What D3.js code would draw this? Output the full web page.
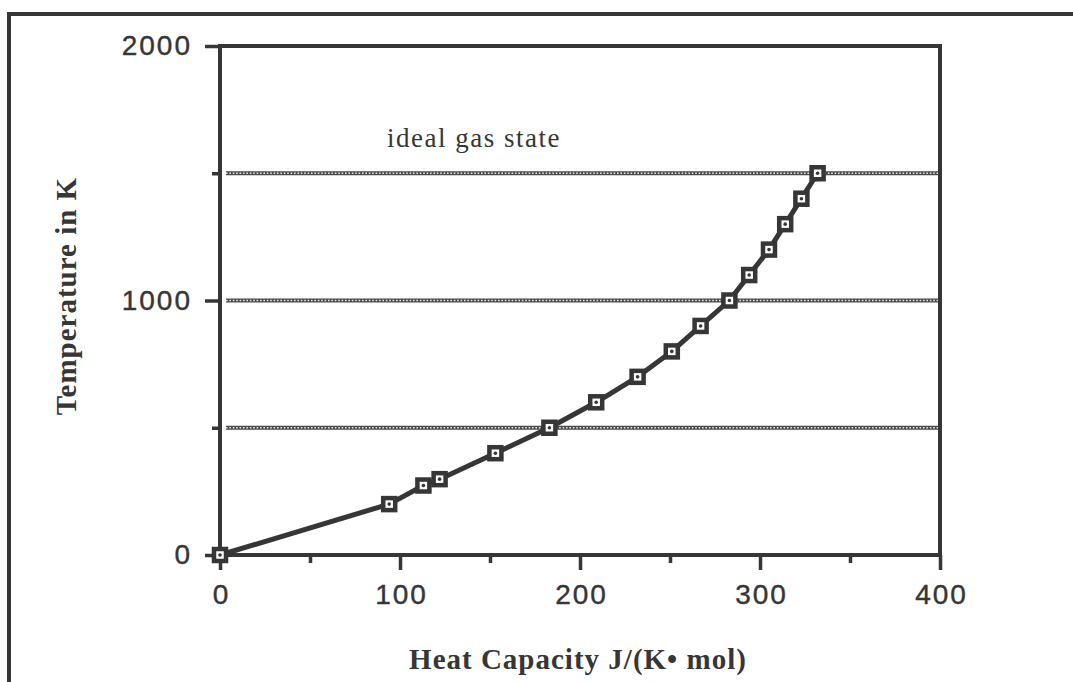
<!DOCTYPE html>
<html>
<head>
<meta charset="utf-8">
<script src="https://cdn.jsdelivr.net/npm/d3@7"></script>
<style>
  html, body { margin: 0; padding: 0; background: #fff; }
  svg { display: block; }
</style>
</head>
<body>
<svg id="chart"></svg>
<script>
// values
const heatCapacity = [0, 94, 113, 122, 153, 183, 209, 232, 251, 267, 283, 294, 305, 314, 323, 332];
const temperature  = [0, 200, 273, 298, 400, 500, 600, 700, 800, 900, 1000, 1100, 1200, 1300, 1400, 1500];
const xTicks = [0, 100, 200, 300, 400];
const xMinorTicks = [50, 150, 250, 350];
const yTicks = [0, 1000, 2000];
const yMinorTicks = [500, 1500];
const gridValues = [500, 1000, 1500];
const annotation = "ideal gas state";
const xLabel = "Heat Capacity J/(K\u2022 mol)";
const yLabel = "Temperature in K";

function drawChart() {
    const width = 1073;
    const height = 682;
    const ink = "#363636";

    const svg = d3.select("#chart")
        .attr("width", width)
        .attr("height", height);
    svg.selectAll("*").remove();

    /* ---------------------------
       Outer frame
    --------------------------- */
    svg.append("path")
        .attr("d", `M9,${height} L9,14 L${width},14`)
        .attr("fill", "none")
        .attr("stroke", ink)
        .attr("stroke-width", 4);

    /* ---------------------------
       Scales
    --------------------------- */
    const plot = { left: 220, right: 940, top: 46, bottom: 555 };

    const x = d3.scaleLinear()
        .domain([0, 400])
        .range([plot.left, plot.right]);

    const y = d3.scaleLinear()
        .domain([0, 2000])
        .range([plot.bottom, plot.top]);

    /* ---------------------------
       Gridlines (chain-dotted)
    --------------------------- */
    const grid = svg.append("g");
    grid.selectAll("line.gridDark")
        .data(gridValues)
        .enter()
        .append("line")
        .attr("class", "gridDark")
        .attr("x1", x(0) + 6)
        .attr("x2", x(400) - 2)
        .attr("y1", d => y(d))
        .attr("y2", d => y(d))
        .attr("stroke", "#4a4a4a")
        .attr("stroke-width", 4);

    grid.selectAll("line.gridLight")
        .data(gridValues)
        .enter()
        .append("line")
        .attr("class", "gridLight")
        .attr("x1", x(0) + 6)
        .attr("x2", x(400) - 2)
        .attr("y1", d => y(d))
        .attr("y2", d => y(d))
        .attr("stroke", "#e6e6e6")
        .attr("stroke-width", 1.3)
        .attr("stroke-dasharray", "1.6,1.8");

    /* ---------------------------
       Axes
    --------------------------- */
    const tickFont = "'Liberation Sans', Arial, sans-serif";

    const xAxis = svg.append("g")
        .attr("transform", `translate(0,${plot.bottom})`)
        .call(d3.axisBottom(x).tickValues(xTicks).tickSize(15).tickPadding(14).tickFormat(d3.format("d")));

    svg.append("g")
        .attr("transform", `translate(0,${plot.bottom})`)
        .call(d3.axisBottom(x).tickValues(xMinorTicks).tickSize(8).tickFormat(""));

    svg.append("g")
        .attr("transform", `translate(${plot.left},0)`)
        .call(d3.axisLeft(y).tickValues(yTicks).tickSize(15).tickPadding(13).tickFormat(d3.format("d")));

    svg.append("g")
        .attr("transform", `translate(${plot.left},0)`)
        .call(d3.axisLeft(y).tickValues(yMinorTicks).tickSize(8).tickFormat(""));

    svg.selectAll(".domain").remove();
    svg.selectAll(".tick line")
        .attr("stroke", ink)
        .attr("stroke-width", 3.5);
    svg.selectAll(".tick text")
        .attr("fill", ink)
        .attr("font-family", tickFont)
        .attr("font-size", "28px")
        .attr("letter-spacing", "2px")
        .attr("stroke", ink)
        .attr("stroke-width", 0.4);
    xAxis.selectAll(".tick text").attr("dx", "1px");

    // plot box
    svg.append("rect")
        .attr("x", plot.left)
        .attr("y", plot.top)
        .attr("width", plot.right - plot.left)
        .attr("height", plot.bottom - plot.top)
        .attr("fill", "none")
        .attr("stroke", ink)
        .attr("stroke-width", 4);

    /* ---------------------------
       Series
    --------------------------- */
    const points = heatCapacity.map((c, i) => ({ c: c, t: temperature[i] }));

    const line = d3.line()
        .x(d => x(d.c))
        .y(d => y(d.t));

    svg.append("path")
        .datum(points)
        .attr("d", line)
        .attr("fill", "none")
        .attr("stroke", ink)
        .attr("stroke-width", 5)
        .attr("stroke-linejoin", "round");

    const markers = svg.selectAll("g.marker")
        .data(points)
        .enter()
        .append("g")
        .attr("class", "marker")
        .attr("transform", d => `translate(${x(d.c)},${y(d.t)})`);

    markers.append("rect")
        .attr("x", -6)
        .attr("y", -6)
        .attr("width", 12)
        .attr("height", 12)
        .attr("fill", "#fff")
        .attr("stroke", ink)
        .attr("stroke-width", 4.5);

    markers.append("circle")
        .attr("r", 1.8)
        .attr("fill", ink);

    /* ---------------------------
       Texts
    --------------------------- */
    const serif = "'Liberation Serif', 'Times New Roman', serif";

    svg.append("text")
        .attr("x", 387)
        .attr("y", 147)
        .attr("font-family", serif)
        .attr("font-size", "27px")
        .attr("letter-spacing", "1.5px")
        .attr("fill", ink)
        .text(annotation);

    svg.append("text")
        .attr("x", (plot.left + plot.right) / 2 - 2)
        .attr("y", 669)
        .attr("text-anchor", "middle")
        .attr("font-family", serif)
        .attr("font-weight", "bold")
        .attr("font-size", "29px")
        .attr("letter-spacing", "1px")
        .attr("fill", ink)
        .text(xLabel);

    svg.append("text")
        .attr("transform", `translate(76,296) rotate(-90)`)
        .attr("text-anchor", "middle")
        .attr("font-family", serif)
        .attr("font-weight", "bold")
        .attr("font-size", "29px")
        .attr("letter-spacing", "1px")
        .attr("fill", ink)
        .text(yLabel);
}

drawChart();
</script>
</body>
</html>
